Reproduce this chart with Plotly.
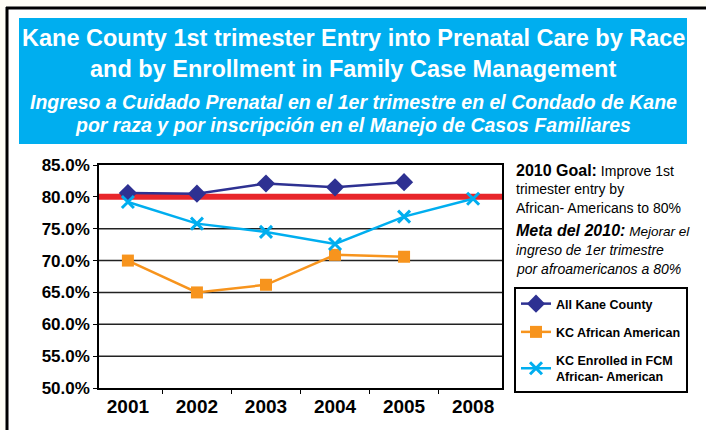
import plotly.graph_objects as go

W, H = 706, 430
# plot area in pixels
L, R, T, B = 99, 502, 165, 388

years = ['2001', '2002', '2003', '2004', '2005', '2008']
all_kane = [80.6, 80.5, 82.1, 81.5, 82.3, None]
kc_african_american = [70.0, 65.0, 66.2, 70.9, 70.6, None]
kc_fcm_african_american = [79.2, 75.8, 74.5, 72.6, 76.9, 79.7]
goal = 80

y_ticks = [50, 55, 60, 65, 70, 75, 80, 85]
y_tick_text = ['%.1f%%' % v for v in y_ticks]

FONT = 'Liberation Sans, Arial, sans-serif'
BLUE = '#00AEEF'
NAVY = '#2E3192'
ORANGE = '#F7941D'
RED = '#E8262B'


def px(x):
    return (x - L) / (R - L)


def py(y):
    return (B - y) / (B - T)


fig = go.Figure()
fig.add_trace(go.Scatter(x=years, y=all_kane, name='<b>All Kane County</b>', mode='lines+markers',
                         line=dict(color=NAVY, width=2.5),
                         marker=dict(symbol='diamond', size=14, color=NAVY), legendgroup='a'))
fig.add_trace(go.Scatter(x=years, y=kc_african_american, name='<b>KC African American</b>', mode='lines+markers',
                         line=dict(color=ORANGE, width=2.5),
                         marker=dict(symbol='square', size=12, color=ORANGE), legendgroup='b'))
fig.add_trace(go.Scatter(x=years, y=kc_fcm_african_american, name='<b>KC Enrolled in FCM<br>African- American</b>',
                         mode='lines+markers', line=dict(color=BLUE, width=2.5),
                         marker=dict(symbol='x-thin', size=12, color=BLUE, line=dict(color=BLUE, width=3)),
                         legendgroup='c'))

shapes = [
    # page
    dict(type='rect', xref='paper', yref='paper', x0=px(7), x1=px(706), y0=py(8), y1=py(430),
         fillcolor='white', line=dict(width=0), layer='below'),
    dict(type='line', xref='paper', yref='paper', x0=px(6), x1=px(706), y0=py(8), y1=py(8),
         line=dict(color='black', width=3), layer='below'),
    dict(type='line', xref='paper', yref='paper', x0=px(7), x1=px(7), y0=py(7), y1=py(430),
         line=dict(color='black', width=3), layer='below'),
    # title box
    dict(type='rect', xref='paper', yref='paper', x0=px(19), x1=px(687), y0=py(18), y1=py(144),
         fillcolor=BLUE, line=dict(width=0), layer='below'),
]
# gridlines drawn as shapes so the goal line can sit on top of them
for v in y_ticks[1:-1]:
    shapes.append(dict(type='line', xref='paper', yref='y', x0=0, x1=1, y0=v, y1=v,
                       line=dict(color='#222', width=1.5), layer='below'))
shapes.append(dict(type='line', xref='paper', yref='y', x0=0, x1=1, y0=goal, y1=goal,
                   line=dict(color=RED, width=6), layer='below'))

annotations = []
title_lines = [
    ('<b>Kane County 1st trimester Entry into Prenatal Care by Race</b>', 38, 23.5),
    ('<b>and by Enrollment in Family Case Management</b>', 69, 23.5),
    ('<b><i>Ingreso a Cuidado Prenatal en el 1er trimestre en el Condado de Kane</i></b>', 102, 19.5),
    ('<b><i>por raza y por inscripción en el Manejo de Casos Familiares</i></b>', 125, 19.5),
]
for txt, yc, sz in title_lines:
    annotations.append(dict(text=txt, xref='paper', yref='paper', x=px(353), y=py(yc),
                            xanchor='center', yanchor='middle', showarrow=False,
                            font=dict(family=FONT, size=sz, color='white')))

goal_lines = [
    ("<b><span style='font-size:16px'>2010 Goal:</span></b> Improve 1st", 170),
    ('trimester entry by', 189),
    ('African- Americans to 80%', 208),
    ("<b><i><span style='font-size:16px'>Meta del 2010:</span></i></b><i><span style='font-size:13.5px'> Mejorar el</span></i>", 230),
    ('<i>ingreso de 1er trimestre</i>', 250),
    ('<i>por afroamericanos a 80%</i>', 269),
]
for txt, yc in goal_lines:
    annotations.append(dict(text=txt, xref='paper', yref='paper', x=px(514), y=py(yc),
                            xanchor='left', yanchor='middle', showarrow=False,
                            font=dict(family=FONT, size=14, color='black')))

fig.update_layout(
    width=W, height=H,
    margin=dict(l=L, r=W - R, t=T, b=H - B),
    paper_bgcolor='#FFFEF6', plot_bgcolor='white',
    font=dict(family=FONT, color='black'),
    showlegend=True,
    legend=dict(x=px(514), y=py(287), xanchor='left', yanchor='top',
                bordercolor='black', borderwidth=2, bgcolor='white',
                font=dict(size=12.5, family=FONT), tracegroupgap=9),
    shapes=shapes,
    annotations=annotations,
)
fig.update_xaxes(type='category', showline=True, linecolor='black', linewidth=1.5, mirror=True,
                 ticks='outside', tickson='boundaries', ticklen=4, tickcolor='black',
                 showgrid=False, tickfont=dict(size=19, family=FONT),
                 tickprefix='<b>', ticksuffix='</b>')
fig.update_yaxes(range=[50, 85], tickvals=y_ticks, ticktext=['<b>%s</b>' % t for t in y_tick_text],
                 showline=True, linecolor='black', linewidth=1.5, mirror=True,
                 ticks='outside', ticklen=4, tickcolor='black',
                 showgrid=False, zeroline=False,
                 tickfont=dict(size=17, family=FONT))

fig.write_html('out.html', config={'displayModeBar': False},
               post_script="document.body.style.margin='0';"
                           "document.body.style.overflow='hidden';"
                           "document.documentElement.style.overflow='hidden';"
                           "document.body.style.background='#FFFEF6';")
